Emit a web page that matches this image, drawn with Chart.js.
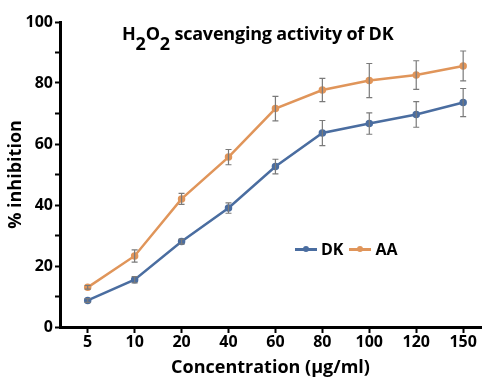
<!DOCTYPE html>
<html>
<head>
<meta charset="utf-8">
<script src="https://cdn.jsdelivr.net/npm/chart.js@4"></script>
<style>
  html, body { margin: 0; padding: 0; background: #fff; }
  #wrap { position: relative; width: 486px; height: 381px; overflow: hidden; }
  #c { position: absolute; left: 0; top: 0; }
  .title { position: absolute; left: 122px; top: 22px; font: bold 18px "Open Sans", sans-serif; color: #000; white-space: nowrap; line-height: 22px; letter-spacing: -0.2px; }
  .title .s { position: relative; top: 10px; }
  .legend { position: absolute; left: 295px; top: 238px; font: bold 16px "Open Sans", sans-serif; color: #000; white-space: nowrap; display: flex; align-items: center; height: 22px; }
  .legend .ln { display: inline-block; width: 22px; height: 3px; position: relative; margin-right: 4px; }
  .legend .ln i { position: absolute; left: 8px; top: -1.5px; width: 6px; height: 6px; border-radius: 3px; background: inherit; }
</style>
</head>
<body>
<div id="wrap">
  <canvas id="c" width="486" height="381"></canvas>
  <div class="title">H<span class="s">2</span>O<span class="s">2</span> scavenging activity of DK</div>
  <div class="legend">
    <span class="ln" style="background:#4a6da0"><i></i></span><span style="margin-right:6px">DK</span>
    <span class="ln" style="background:#e0955a"><i></i></span><span>AA</span>
  </div>
</div>
<script>
const categories = ["5", "10", "20", "40", "60", "80", "100", "120", "150"];
const dkValues = [8.7, 15.5, 28.0, 39.0, 52.6, 63.6, 66.7, 69.7, 73.6];
const dkErrors = [0.6, 1.0, 0.8, 1.7, 2.4, 4.1, 3.5, 4.2, 4.6];
const aaValues = [13.0, 23.3, 42.0, 55.7, 71.6, 77.7, 80.8, 82.6, 85.6];
const aaErrors = [0.6, 2.0, 1.8, 2.5, 4.0, 3.8, 5.6, 4.7, 4.9];
const yTicks = [0, 20, 40, 60, 80, 100];

const DK_COLOR = '#4a6da0';
const AA_COLOR = '#e0955a';
const FONT = '"Open Sans", sans-serif';

function toPoints(vals) { return vals.map((v, i) => ({ x: i, y: v })); }

const errorBars = {
  id: 'errorBars',
  afterDatasetsDraw(chart) {
    const ctx = chart.ctx;
    const ys = chart.scales.y, xs = chart.scales.x;
    const errs = [dkErrors, aaErrors];
    ctx.save();
    ctx.strokeStyle = '#7a7a7a';
    ctx.lineWidth = 1.2;
    chart.data.datasets.forEach((ds, di) => {
      ds.data.forEach((p, i) => {
        const e = errs[di][i];
        const px = xs.getPixelForValue(p.x);
        const top = ys.getPixelForValue(p.y + e);
        const bot = ys.getPixelForValue(p.y - e);
        ctx.beginPath();
        ctx.moveTo(px, top); ctx.lineTo(px, bot);
        ctx.moveTo(px - 3, top); ctx.lineTo(px + 3, top);
        ctx.moveTo(px - 3, bot); ctx.lineTo(px + 3, bot);
        ctx.stroke();
      });
    });
    ctx.restore();
  }
};

new Chart(document.getElementById('c'), {
  type: 'line',
  data: {
    datasets: [
      { label: 'DK', data: toPoints(dkValues), borderColor: DK_COLOR, backgroundColor: DK_COLOR,
        borderWidth: 2.5, pointRadius: 2.5, pointHoverRadius: 2.5, tension: 0 },
      { label: 'AA', data: toPoints(aaValues), borderColor: AA_COLOR, backgroundColor: AA_COLOR,
        borderWidth: 2.5, pointRadius: 2.5, pointHoverRadius: 2.5, tension: 0 }
    ]
  },
  options: {
    responsive: false,
    animation: false,
    events: [],
    layout: { padding: { top: 22, right: 0, bottom: 0, left: 0 } },
    plugins: { legend: { display: false }, title: { display: false }, tooltip: { enabled: false } },
    scales: {
      x: {
        type: 'linear',
        min: -0.59,
        max: 8.38,
        afterBuildTicks(scale) { scale.ticks = categories.map((c, i) => ({ value: i })); },
        afterFit(scale) { scale.height = 54; },
        ticks: {
          autoSkip: false, maxRotation: 0, padding: 0,
          color: '#000', font: { family: FONT, weight: 'bold', size: 16 },
          callback: (v) => categories[v]
        },
        grid: { display: true, drawOnChartArea: false, drawTicks: true, tickLength: 6, tickWidth: 2, tickColor: '#000' },
        border: { display: true, color: '#000', width: 3 },
        title: { display: true, text: 'Concentration (µg/ml)', color: '#000',
          font: { family: FONT, weight: 'bold', size: 18 }, padding: { top: 0, bottom: 2 } }
      },
      y: {
        min: 0, max: 100,
        afterBuildTicks(scale) {
          const t = [];
          for (let v = 0; v <= 100; v += 10) t.push({ value: v });
          scale.ticks = t;
        },
        afterFit(scale) { scale.width = 60; },
        ticks: {
          padding: 2, color: '#000', font: { family: FONT, weight: 'bold', size: 16 },
          callback: (v) => yTicks.includes(v) ? String(v) : ''
        },
        grid: { display: true, drawOnChartArea: false, drawTicks: true, tickLength: 5, tickWidth: 2, tickColor: '#000' },
        border: { display: true, color: '#000', width: 3 },
        title: { display: true, text: '% inhibition', color: '#000',
          font: { family: FONT, weight: 'bold', size: 18 }, padding: { top: 5, bottom: 0 } }
      }
    }
  },
  plugins: [errorBars]
});
</script>
</body>
</html>
